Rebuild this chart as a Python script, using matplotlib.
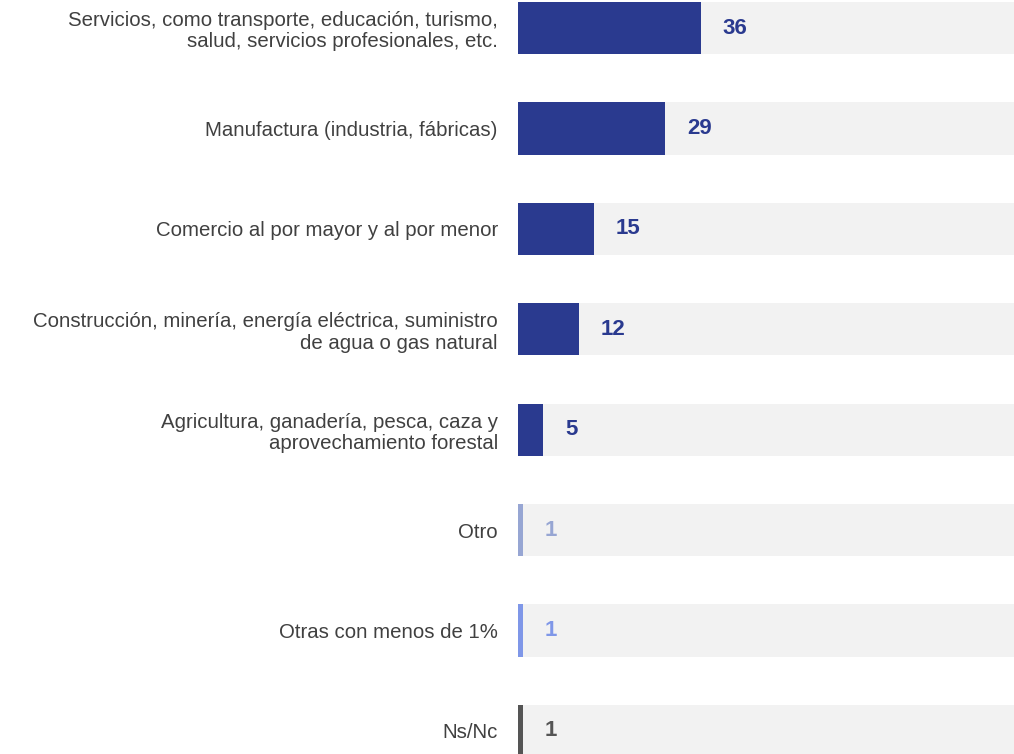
import matplotlib.pyplot as plt

plt.rcParams['font.family'] = ['Liberation Sans', 'DejaVu Sans']

# Data
categories = [
    'Servicios, como transporte, educación, turismo,\nsalud, servicios profesionales, etc.',
    'Manufactura (industria, fábricas)',
    'Comercio al por mayor y al por menor',
    'Construcción, minería, energía eléctrica, suministro\nde agua o gas natural',
    'Agricultura, ganadería, pesca, caza y\naprovechamiento forestal',
    'Otro',
    'Otras con menos de 1%',
    'Ns/Nc',
]
values = [36, 29, 15, 12, 5, 1, 1, 1]
bar_colors = ['#2a3a8f'] * 5 + ['#97a6d3', '#7f97e8', '#555555']

fig = plt.figure(figsize=(10.14, 7.54), dpi=100)
ax = fig.add_axes([518 / 1014, 0, 496 / 1014, 1])

y = list(range(len(categories)))
ax.barh(y, [100] * len(y), height=0.52, color='#f2f2f2', zorder=1)
ax.barh(y, values, height=0.52, color=bar_colors, zorder=2)

for yi, v, c in zip(y, values, bar_colors):
    ax.annotate(str(v), xy=(v, yi), xytext=(15.5, 0), textcoords='offset points',
                ha='left', va='center', fontsize=16, fontweight='bold',
                color=c, zorder=3)

ax.set_xlim(0, 496 / 5.08)
ax.set_ylim(7.23, -0.279)
ax.set_yticks(y)
ax.set_yticklabels(categories, fontsize=14.7, color='#404040', linespacing=1.15)
ax.tick_params(axis='y', length=0, pad=14.5)
ax.set_xticks([])
for s in ax.spines.values():
    s.set_visible(False)

fig.savefig('out.png', dpi=100)
